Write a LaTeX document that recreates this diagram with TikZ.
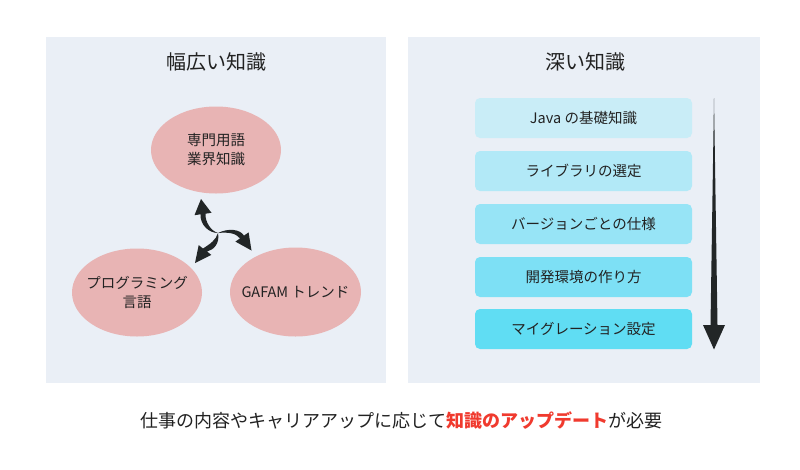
\documentclass[tikz,border=0pt]{standalone}
\usepackage{fontspec}
\setmainfont{Noto Sans CJK JP}
\definecolor{panelbg}{HTML}{EAEFF6}
\definecolor{ellfill}{HTML}{E8B4B4}
\definecolor{arrowdark}{HTML}{222627}
\definecolor{boxa}{HTML}{C9EDF7}
\definecolor{boxb}{HTML}{B2E9F7}
\definecolor{boxc}{HTML}{97E4F6}
\definecolor{boxd}{HTML}{7DE0F5}
\definecolor{boxe}{HTML}{60DDF3}
\definecolor{redtext}{HTML}{F03A2E}
\definecolor{textdark}{HTML}{222222}
\begin{document}
\begin{tikzpicture}[x=1pt,y=-1pt,
  panel/.style={fill=panelbg,draw=none},
  titletext/.style={font=\fontsize{20}{24}\selectfont,text=textdark},
  bubble/.style={fill=ellfill,draw=none},
  bubbletext/.style={align=center,inner sep=0pt,font=\fontsize{14.5}{20}\selectfont,text=textdark},
  stepbox/.style={rectangle,rounded corners=5pt,draw=none,minimum width=217pt,minimum height=40pt,inner sep=0pt,font=\fontsize{14.5}{18}\selectfont,text=textdark},
  arr/.style={fill=arrowdark,draw=none}
]
\useasboundingbox (0,0) rectangle (800,469);
\fill[white] (0,0) rectangle (800,469);
% panels
\path[panel] (46,37) rectangle (386,383);
\path[panel] (408,37) rectangle (760,383);
\node[titletext] (t1) at (216,62) {幅広い知識};
\node[titletext] (t2) at (585,62) {深い知識};
% ellipses
\path[bubble] (216,150) ellipse (65 and 43.5);
\path[bubble] (137,292.5) ellipse (65 and 44);
\path[bubble] (295.5,292) ellipse (65.5 and 44.5);
\node[bubbletext] (e1) at (216,150) {専門用語\\[-1pt]業界知識};
\node[bubbletext] (e2) at (137,292.5) {プログラミング\\[-1pt]言語};
\node[bubbletext] (e3) at (295.5,292) {GAFAM トレンド};
% center arrows
\coordinate (c) at (218,233);
\fill[arr] (c) .. controls (209,233) and (200,225) .. (200.5,214.3) -- (194.5,215.2) -- (201,199) -- (211.5,212.8) -- (205.5,213.7) .. controls (205,222) and (211,231) .. (c) -- cycle;
\fill[arr] (c) .. controls (228,228) and (240,229) .. (244,235.6) -- (248.6,232.4) -- (251.5,250.5) -- (235.4,241.6) -- (240,238.4) .. controls (236,233) and (228,232) .. (c) -- cycle;
\fill[arr] (c) .. controls (220,243) and (214,250) .. (207,251.5) -- (211.3,254.9) -- (195,263) -- (198.7,245.1) -- (203,248.5) .. controls (210,244) and (216,240) .. (c) -- cycle;
% step boxes
\node[stepbox,fill=boxa] (s1) at (583.5,118) {Java の基礎知識};
\node[stepbox,fill=boxb] (s2) at (583.5,171) {ライブラリの選定};
\node[stepbox,fill=boxc] (s3) at (583.5,224) {バージョンごとの仕様};
\node[stepbox,fill=boxd] (s4) at (583.5,277) {開発環境の作り方};
\node[stepbox,fill=boxe] (s5) at (583.5,329) {マイグレーション設定};
% long down arrow
\fill[arr] (714,98) -- (717.5,325) -- (725,325) -- (714,349.5) -- (703,325) -- (710.5,325) -- cycle;
% bottom text
\node[font=\fontsize{18}{22}\selectfont,text=textdark] (bt) at (401,421) {仕事の内容やキャリアアップに応じて\textcolor{redtext}{\bfseries 知識のアップデート}が必要};
\end{tikzpicture}
\end{document}
